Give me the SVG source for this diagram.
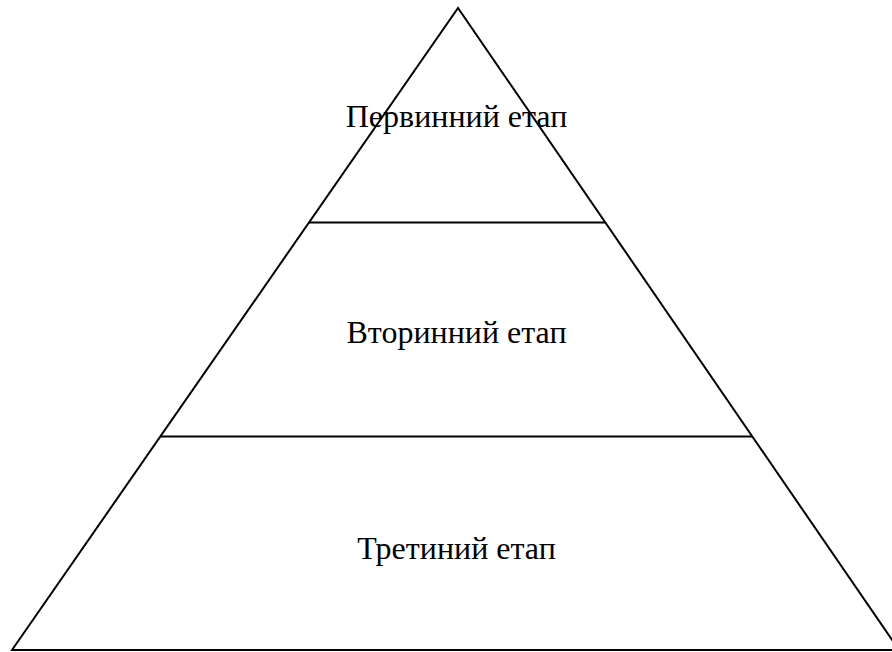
<svg xmlns="http://www.w3.org/2000/svg" width="892" height="652" viewBox="0 0 892 652">
<style>
.ln{stroke:#000;stroke-width:2;fill:none}
.t{font-family:"Liberation Serif","Times New Roman",serif;font-size:32px;fill:#000;text-anchor:middle}
</style>
<rect width="892" height="652" fill="#fff"/>
<g id="connectors">
<path class="ln" d="M12,650 L458,8 L899,650 Z"/>
<line class="ln" x1="309" y1="222.5" x2="605" y2="222.5"/>
<line class="ln" x1="160" y1="436.5" x2="752" y2="436.5"/>
</g>
<g id="n1"><text class="t" x="456.5" y="127">Первинний етап</text></g>
<g id="n2"><text class="t" x="456.5" y="343">Вторинний етап</text></g>
<g id="n3"><text class="t" x="456.5" y="559">Третиний етап</text></g>
</svg>
